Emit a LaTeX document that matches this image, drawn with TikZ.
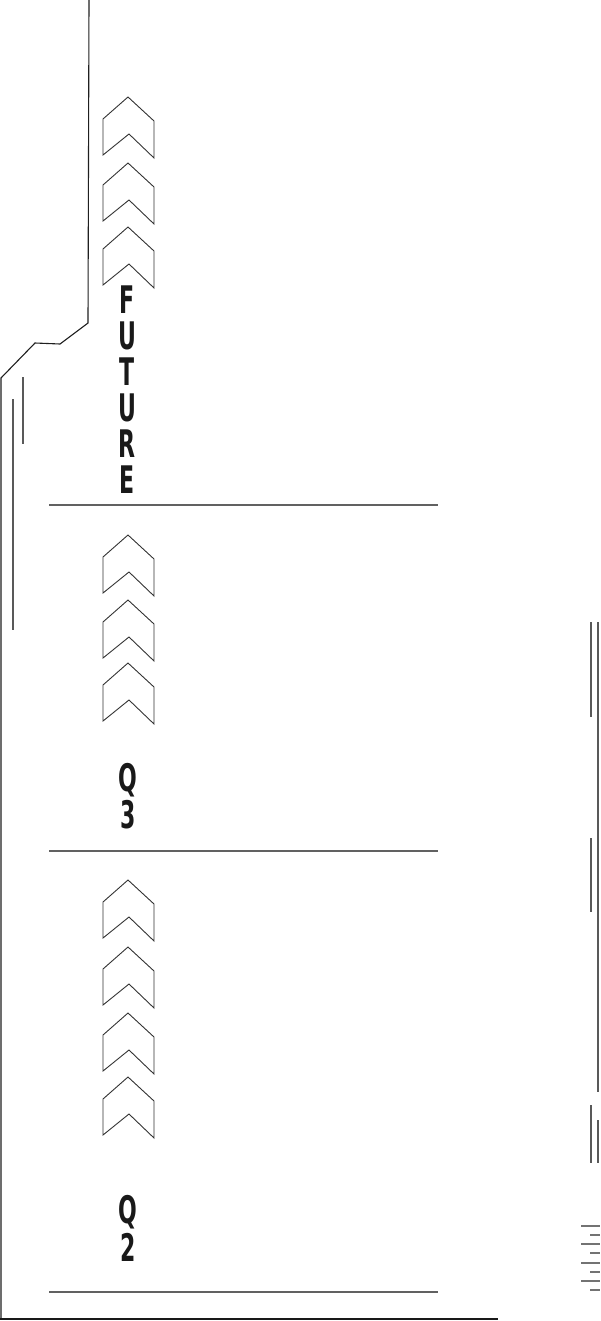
\documentclass[tikz,border=0pt]{standalone}
\usepackage{fontspec}
\newfontfamily\condfont[FakeStretch=0.58]{DejaVu Sans}
\tikzset{
  chev/.style={draw=black!80, line width=0.9pt, line join=miter},
  sepline/.style={draw=black!62, line width=1.2pt},
  frame/.style={draw=black!88, line width=1.1pt},
  frameb/.style={draw=black!90, line width=1.6pt},
  thin/.style={draw=black!65, line width=1.1pt},
  tick/.style={draw=black!55, line width=1.4pt},
  label/.style={inner sep=0pt, anchor=base, text height=27pt, text depth=0pt,
    text=black!90, font=\condfont\bfseries\fontsize{38}{40}\selectfont}
}
\newcommand\chevron[1]{%
  \draw[chev] (128,#1) -- (103,#1+22) -- (103,#1+58) -- (129,#1+37)
    -- (154,#1+61) -- (154,#1+24) -- cycle;}
\begin{document}
\begin{tikzpicture}[x=1pt,y=-1pt]
\useasboundingbox (0,0) rectangle (600,1321);
% frame polyline
\draw[frame] (89,0) -- (88,323) -- (60,344) -- (35,343) -- (1,378) -- (1,1319);
\draw[frameb] (0,1319) -- (498,1319);
% left short lines
\draw[thin] (23,377) -- (23,444);
\draw[thin] (13,399) -- (13,630);
% right lines
\draw[thin] (598,622) -- (598,1092);
\draw[thin] (591,622) -- (591,717);
\draw[thin] (591,838) -- (591,912);
\draw[thin] (591,1105) -- (591,1163);
\draw[thin] (598,1120) -- (598,1163);
% ticks
\foreach \y in {1226,1244,1263,1281} \draw[tick] (581,\y) -- (600,\y);
\foreach \y in {1235,1253,1272,1290} \draw[tick] (590,\y) -- (600,\y);
% chevrons
\foreach \a in {97,163,227} {\chevron{\a}}
\foreach \a in {535,600,663} {\chevron{\a}}
\foreach \a in {880,947,1013,1077} {\chevron{\a}}
% separators
\draw[sepline] (49,505) -- (438,505);
\draw[sepline] (49,851) -- (438,851);
\draw[sepline] (49,1292) -- (438,1292);
% labels
\node[label] (f1) at (127,313) {F};
\node[label] (f2) at (127,349) {U};
\node[label] (f3) at (127,385) {T};
\node[label] (f4) at (127,421) {U};
\node[label] (f5) at (127,457) {R};
\node[label] (f6) at (127,493) {E};
\node[label] (q3a) at (128,791) {Q};
\node[label] (q3b) at (128,828) {3};
\node[label] (q2a) at (128,1223) {Q};
\node[label] (q2b) at (128,1261) {2};
\end{tikzpicture}
\end{document}
